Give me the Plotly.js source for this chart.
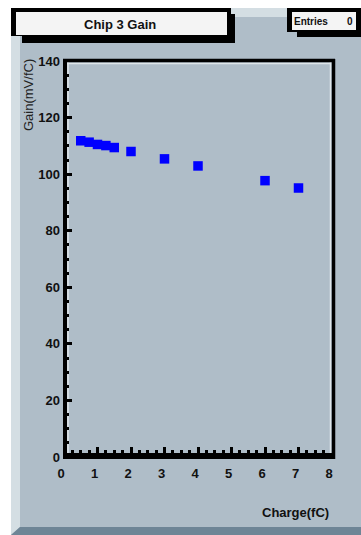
<!DOCTYPE html>
<html>
<head>
<meta charset="utf-8">
<script src="https://cdn.plot.ly/plotly-3.0.1.min.js"></script>
<style>
html,body{margin:0;padding:0;background:#fff;}
#chart{width:361px;height:535px;}
</style>
</head>
<body>
<div id="chart"></div>
<script>
// ---- data ----
const charge = [0.5, 0.75, 1.0, 1.25, 1.5, 2, 3, 4, 6, 7];
const gain = [111.8, 111.3, 110.5, 110.1, 109.4, 108.0, 105.4, 102.9, 97.7, 95.1];
const chartTitle = "Chip 3 Gain";
const xTitle = "Charge(fC)";
const yTitle = "Gain(mV/fC)";
const statsLabel = "Entries";
const statsValue = "0";

// ---- geometry (pixels) ----
const W = 361, H = 535;
const L = 64, R = 332, T = 61, B = 457;
function xp(px){ return (px - L) / (R - L); }
function yp(py){ return (B - py) / (B - T); }
function rect(x0, y0, x1, y1, color){
  return {type:'rect', xref:'paper', yref:'paper', layer:'below',
    x0:xp(x0), x1:xp(x1), y0:yp(y1), y1:yp(y0),
    fillcolor:color, line:{width:0}};
}
function poly(pts, color){
  let d = pts.map((p,i)=> (i? 'L':'M') + xp(p[0]) + ',' + yp(p[1])).join(' ') + ' Z';
  return {type:'path', xref:'paper', yref:'paper', layer:'below', path:d,
    fillcolor:color, line:{width:0}};
}
function seg(x0, y0, x1, y1, color, w){
  return {type:'line', xref:'paper', yref:'paper', layer:'below',
    x0:xp(x0), x1:xp(x1), y0:yp(y0), y1:yp(y1), line:{color:color, width:w}};
}

const GRAY = '#afbdc8', LIGHT = '#d4dee3', DARK = '#6e8596';
const shapes = [
  rect(11, 8, 361, 535, GRAY),
  poly([[11,8],[361,8],[361,17],[20,17]], LIGHT),
  poly([[11,8],[20,17],[20,527],[11,535]], LIGHT),
  poly([[11,535],[20,527],[361,527],[361,535]], DARK),
  // title box
  rect(22, 14, 235, 43, '#000'),
  rect(11, 8, 231, 36, '#000'),
  rect(16, 12, 227, 35, '#f4f4f4'),
  // stats box
  rect(297, 15, 361, 37, '#000'),
  rect(287, 8, 361, 32, '#000'),
  rect(292, 12, 356, 30, '#f4f4f4'),
  // frame inner light bevel
  seg(67, 63.5, 331, 63.5, '#dfe6ea', 1.5),
  seg(330.5, 62, 330.5, 453, '#dfe6ea', 1.5),
  seg(68, 62, 68, 453, '#dfe6ea', 1.5),
  // frame
  seg(63, 60.5, 335, 60.5, '#000', 3.5),
  seg(333.5, 59, 333.5, 459, '#000', 3.5),
  seg(65, 59, 65, 459, '#000', 4),
  seg(63, 456, 335, 456, '#000', 6)
];

const FONT = 'Liberation Sans, Arial, sans-serif';
const annotations = [
  {text:chartTitle, xref:'paper', yref:'paper', x:xp(120), y:yp(24), xanchor:'center', yanchor:'middle',
   showarrow:false, font:{family:FONT, size:13, color:'#111', weight:'bold'}},
  {text:statsLabel, xref:'paper', yref:'paper', x:xp(291.5), y:yp(21), xanchor:'left', yanchor:'middle',
   showarrow:false, font:{family:FONT, size:10, color:'#111', weight:'bold'}},
  {text:statsValue, xref:'paper', yref:'paper', x:xp(355), y:yp(21), xanchor:'right', yanchor:'middle',
   showarrow:false, font:{family:FONT, size:10, color:'#111', weight:'bold'}},
  {text:xTitle, xref:'paper', yref:'paper', x:xp(331), y:yp(512), xanchor:'right', yanchor:'middle',
   showarrow:false, font:{family:FONT, size:13, color:'#111', weight:'bold'}},
  {text:yTitle, xref:'paper', yref:'paper', x:xp(29), y:yp(57), xanchor:'center', yanchor:'top',
   textangle:-90, showarrow:false, font:{family:FONT, size:13, color:'#222'}}
];

const trace = {
  x: charge, y: gain, type:'scatter', mode:'markers',
  marker:{symbol:'square', size:9.5, color:'#0000ff', line:{width:0}},
  hoverinfo:'skip', cliponaxis:false
};

const layout = {
  width: W, height: H,
  margin:{l:L, r:W-R, t:T, b:H-B, pad:0},
  paper_bgcolor:'#ffffff', plot_bgcolor:'rgba(0,0,0,0)',
  showlegend:false,
  xaxis:{range:[0,8], dtick:1, tick0:0, ticks:'inside', ticklen:10, tickwidth:3, tickcolor:'#000',
    minor:{dtick:0.25, tick0:0, ticks:'inside', ticklen:7, tickwidth:3, tickcolor:'#000'},
    showgrid:false, zeroline:false, showline:false, ticklabelshift:-3, ticklabelstandoff:7,
    tickfont:{family:FONT, size:13, color:'#111', weight:'bold'}},
  yaxis:{range:[0,140], dtick:20, tick0:0, ticks:'inside', ticklen:8, tickwidth:3, tickcolor:'#000',
    minor:{dtick:5, tick0:0, ticks:'inside', ticklen:5, tickwidth:3, tickcolor:'#000'},
    showgrid:false, zeroline:false, showline:false, ticklabelstandoff:3,
    tickfont:{family:FONT, size:13, color:'#111', weight:'bold'}},
  shapes: shapes,
  annotations: annotations
};

Plotly.newPlot('chart', [trace], layout, {staticPlot:true, displayModeBar:false});
</script>
</body>
</html>
